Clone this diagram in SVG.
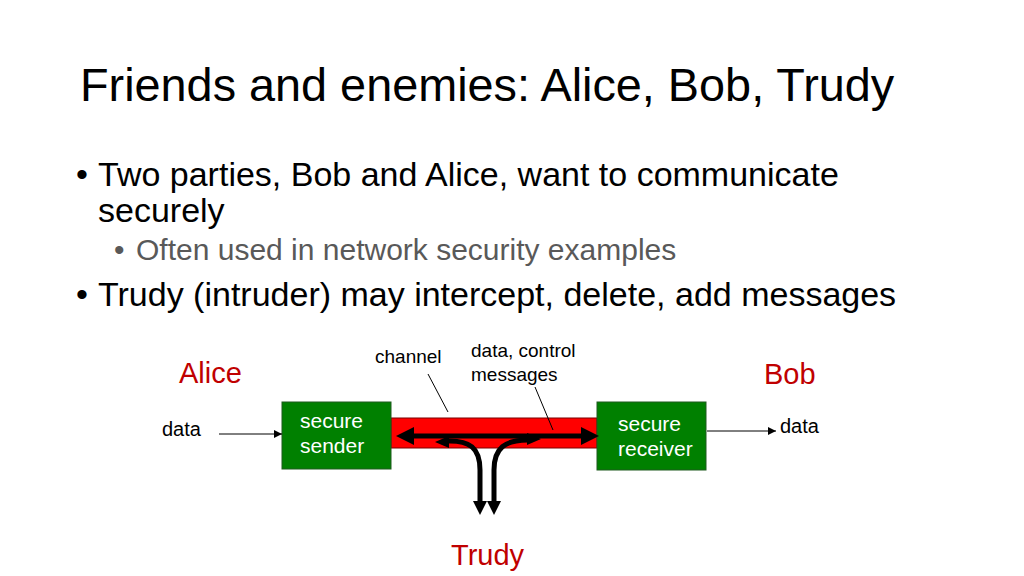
<svg xmlns="http://www.w3.org/2000/svg" width="1024" height="576" viewBox="0 0 1024 576">
<style>
text{font-family:"Liberation Sans",Arial,sans-serif;fill:#000}
.title{font-size:46.8px}
.b1{font-size:34px}
.b2{font-size:30px;fill:#595959}
.lbl{font-size:19px}
.dat{font-size:20px}
.who{font-size:29px;fill:#c00000}
.box{fill:#008000;stroke:#1f5a1f;stroke-width:1}
.boxt{font-size:21px;fill:#fff}
.thin{stroke:#000;stroke-width:1;fill:none}
.thick{stroke:#000;stroke-width:5;fill:none}
</style>
<defs>
<marker id="sa" viewBox="0 0 10 10" refX="10" refY="5" markerWidth="8" markerHeight="8" markerUnits="userSpaceOnUse" orient="auto"><path d="M0,0 L10,5 L0,10 z" fill="#000"/></marker>
</defs>
<rect width="1024" height="576" fill="#fff"/>
<text class="title" x="80" y="101">Friends and enemies: Alice, Bob, Trudy</text>
<text class="b1" x="76" y="186">•</text>
<text class="b1" x="98" y="186">Two parties, Bob and Alice, want to communicate</text>
<text class="b1" x="98" y="222">securely</text>
<text class="b2" x="114" y="260">•</text>
<text class="b2" x="136" y="260">Often used in network security examples</text>
<text class="b1" x="76" y="306">•</text>
<text class="b1" x="98" y="306">Trudy (intruder) may intercept, delete, add messages</text>

<g id="channel">
<rect x="391" y="418" width="206" height="30" fill="#ff0000" stroke="#7a0000" stroke-width="1"/>
</g>
<g id="sender">
<rect class="box" x="282" y="402" width="109" height="67"/>
<text class="boxt" x="300" y="428">secure</text>
<text class="boxt" x="300" y="453">sender</text>
</g>
<g id="receiver">
<rect class="box" x="597" y="402" width="109" height="68"/>
<text class="boxt" x="618" y="431">secure</text>
<text class="boxt" x="618" y="456">receiver</text>
</g>
<g id="labels">
<text class="who" x="179" y="383">Alice</text>
<text class="who" x="764" y="384">Bob</text>
<text class="who" x="451" y="565">Trudy</text>
<text class="lbl" x="375" y="363">channel</text>
<text class="lbl" x="471" y="357">data, control</text>
<text class="lbl" x="471" y="381">messages</text>
<text class="dat" x="162" y="436">data</text>
<text class="dat" x="780" y="433">data</text>
</g>
<g id="connectors">
<line class="thin" x1="219" y1="434" x2="282" y2="434" marker-end="url(#sa)"/>
<line class="thin" x1="707" y1="431" x2="776" y2="431" marker-end="url(#sa)"/>
<line class="thin" x1="428" y1="374" x2="448" y2="412"/>
<line class="thin" x1="535" y1="387" x2="553" y2="430"/>
<line class="thick" x1="410" y1="436" x2="585" y2="436"/>
<polygon points="396,436 414,427 414,445" fill="#000"/>
<polygon points="599,436 581,427 581,445" fill="#000"/>
<path class="thick" d="M446 441 C470 440 480 448 480 470 L480 503"/>
<path class="thick" d="M528 440 C505 440 494 448 494 470 L494 503"/>
<polygon points="435,442 449,436 449,448" fill="#000"/>
<polygon points="541,439 527,433 527,445" fill="#000"/>
<polygon points="473,501 487,501 480,515" fill="#000"/>
<polygon points="487,501 501,501 494,515" fill="#000"/>
</g>
</svg>
